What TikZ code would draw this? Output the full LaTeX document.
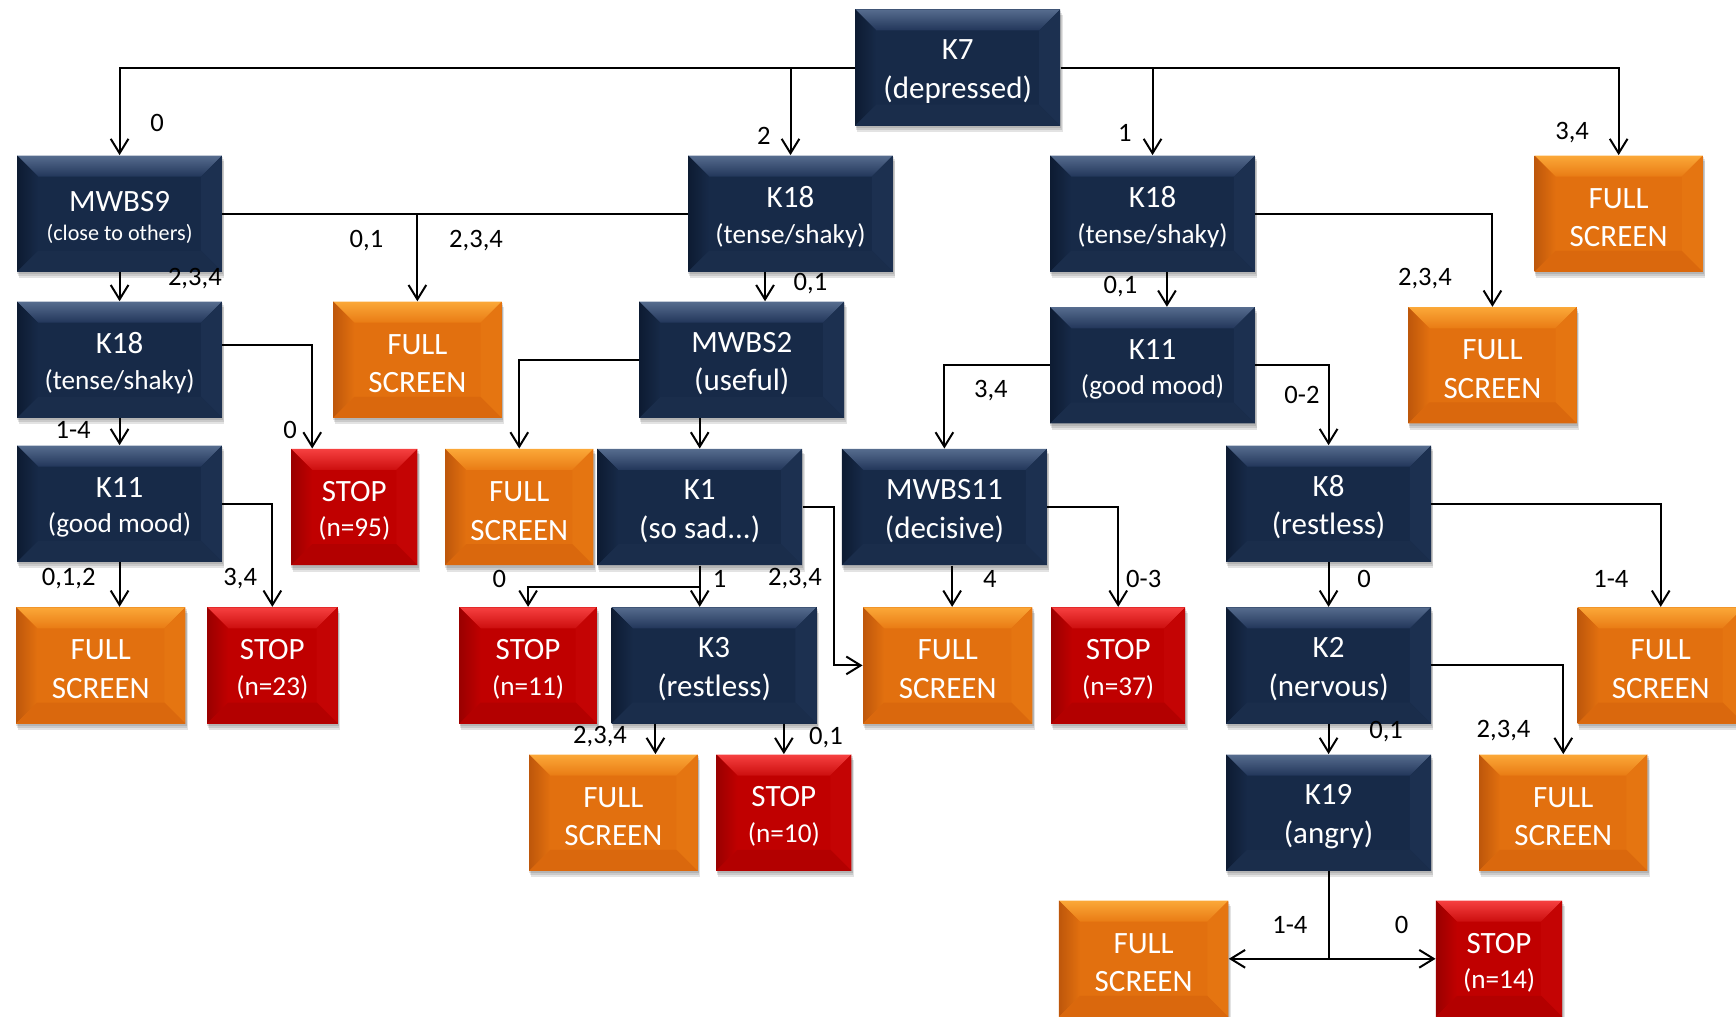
\documentclass[tikz,border=0pt]{standalone}
\usepackage{fontspec}
\setmainfont{Carlito}
\usetikzlibrary{arrows.meta,calc,backgrounds}
\definecolor{navyC}{HTML}{172A48}
\definecolor{navyT}{HTML}{566C8E}
\definecolor{navyM}{HTML}{22365A}
\definecolor{navyL}{HTML}{0D1B32}
\definecolor{navyR}{HTML}{1C3050}
\definecolor{navyB}{HTML}{1A2D4B}
\definecolor{orgC}{HTML}{E2700F}
\definecolor{orgT}{HTML}{FBA838}
\definecolor{orgM}{HTML}{E97B14}
\definecolor{orgL}{HTML}{BE570B}
\definecolor{orgR}{HTML}{E57511}
\definecolor{orgB}{HTML}{DA680D}
\definecolor{redC}{HTML}{C00000}
\definecolor{redT}{HTML}{F64040}
\definecolor{redM}{HTML}{CC0E0E}
\definecolor{redL}{HTML}{9A0000}
\definecolor{redR}{HTML}{C40404}
\definecolor{redB}{HTML}{B30000}
\newcommand{\smalltwo}[1]{{\fontsize{12.3}{15}\selectfont #1}}
\newcommand{\tp}{\rule{0pt}{12.5pt}}
\tikzset{
  bevel/.style n args={6}{path picture={
    \coordinate (bvA) at (path picture bounding box.north west);
    \coordinate (bvB) at (path picture bounding box.north east);
    \coordinate (bvC) at (path picture bounding box.south east);
    \coordinate (bvD) at (path picture bounding box.south west);
    \coordinate (bva) at ([shift={(9.5pt,-9.5pt)}]bvA);
    \coordinate (bvb) at ([shift={(-9.5pt,-9.5pt)}]bvB);
    \coordinate (bvc) at ([shift={(-9.5pt,9.5pt)}]bvC);
    \coordinate (bvd) at ([shift={(9.5pt,9.5pt)}]bvD);
    \shade[top color=#1, bottom color=#2] (bvA) -- (bvB) -- (bvb) -- (bva) -- cycle;
    \shade[left color=#3, right color=#6] (bvA) -- (bva) -- (bvd) -- (bvD) -- cycle;
    \fill[#4] (bvB) -- (bvb) -- (bvc) -- (bvC) -- cycle;
    \fill[#5] (bvD) -- (bvd) -- (bvc) -- (bvC) -- cycle;
  }},
  boxbase/.style={rectangle, inner sep=0pt, align=center, text=white,
    font=\fontsize{14}{17.5}\selectfont, minimum height=52.5pt},
  navybox/.style={boxbase, fill=navyC, minimum width=92.5pt,
    bevel={navyT}{navyM}{navyL}{navyR}{navyB}{navyC}},
  fsbox/.style={boxbase, fill=orgC, minimum width=76pt,
    bevel={orgT}{orgM}{orgL}{orgR}{orgB}{orgC}},
  stopbox/.style={boxbase, fill=redC, minimum width=60pt,
    bevel={redT}{redM}{redL}{redR}{redB}{redC}},
  conn/.style={line width=0.9pt, -{Straight Barb[length=6.5pt,width=8pt,line width=0.9pt]}},
  plainline/.style={line width=0.9pt},
  lab/.style={inner sep=0pt, font=\fontsize{12}{14}\selectfont},
}
\begin{document}
\begin{tikzpicture}[x=0.5pt,y=-0.5pt]
\useasboundingbox (0,0) rectangle (1568,918);
% ---- nodes
\node[navybox] (k7) at (865,61) {\tp K7\\(depressed)};
\node[navybox] (mwbs9) at (108,193) {\tp MWBS9\\[-4pt]{\fontsize{10}{12}\selectfont(close to others)}};
\node[navybox] (k18a) at (714,193) {\tp K18\\[-1.5pt]\smalltwo{(tense/shaky)}};
\node[navybox] (k18b) at (1041,193) {\tp K18\\[-1.5pt]\smalltwo{(tense/shaky)}};
\node[fsbox] (fs1) at (1462,193) {\tp FULL\\SCREEN};
\node[navybox] (k18c) at (108,325) {\tp K18\\[-1.5pt]\smalltwo{(tense/shaky)}};
\node[fsbox] (fs2) at (377,325) {\tp FULL\\SCREEN};
\node[navybox] (mwbs2) at (670,325) {\tp MWBS2\\(useful)};
\node[navybox] (k11b) at (1041,330) {\tp K11\\[-1.5pt]\smalltwo{(good mood)}};
\node[fsbox] (fs3) at (1348,330) {\tp FULL\\SCREEN};
\node[navybox] (k11a) at (108,455) {\tp K11\\[-1.5pt]\smalltwo{(good mood)}};
\node[stopbox, minimum width=57pt] (stop95) at (320,458) {\tp STOP\\[-1.5pt]\smalltwo{(n=95)}};
\node[fsbox, minimum width=67pt] (fs4) at (469,458) {\tp FULL\\SCREEN};
\node[navybox] (k1) at (632,458) {\tp K1\\(so sad...)};
\node[navybox] (mwbs11) at (853,458) {\tp MWBS11\\(decisive)};
\node[navybox] (k8) at (1200,455) {\tp K8\\(restless)};
\node[fsbox, minimum width=76.5pt] (fs5) at (91,601) {\tp FULL\\SCREEN};
\node[stopbox, minimum width=59pt] (stop23) at (246,601) {\tp STOP\\[-1.5pt]\smalltwo{(n=23)}};
\node[stopbox, minimum width=62pt] (stop11) at (477,601) {\tp STOP\\[-1.5pt]\smalltwo{(n=11)}};
\node[navybox] (k3) at (645,601) {\tp K3\\(restless)};
\node[fsbox, minimum width=76.5pt] (fs6) at (856,601) {\tp FULL\\SCREEN};
\node[stopbox, minimum width=60.5pt] (stop37) at (1010,601) {\tp STOP\\[-1.5pt]\smalltwo{(n=37)}};
\node[navybox] (k2) at (1200,601) {\tp K2\\(nervous)};
\node[fsbox, minimum width=75pt] (fs7) at (1500,601) {\tp FULL\\SCREEN};
\node[fsbox] (fs8) at (554,734) {\tp FULL\\SCREEN};
\node[stopbox, minimum width=61pt] (stop10) at (708,734) {\tp STOP\\[-1.5pt]\smalltwo{(n=10)}};
\node[navybox] (k19) at (1200,734) {\tp K19\\(angry)};
\node[fsbox] (fs9) at (1412,734) {\tp FULL\\SCREEN};
\node[fsbox, minimum width=76.5pt] (fs10) at (1033,866) {\tp FULL\\SCREEN};
\node[stopbox, minimum width=57pt] (stop14) at (1354,866) {\tp STOP\\[-1.5pt]\smalltwo{(n=14)}};
% ---- soft shadows
\begin{scope}[on background layer]
\foreach \n in {k7,mwbs9,k18a,k18b,fs1,k18c,fs2,mwbs2,k11b,fs3,k11a,stop95,fs4,k1,mwbs11,k8,fs5,stop23,stop11,k3,fs6,stop37,k2,fs7,fs8,stop10,k19,fs9,fs10,stop14}{
  \foreach \s in {1,2,3}{
    \fill[black, opacity=0.11] ([shift={(0.3pt*\s,-0.9pt*\s)}]\n.south west) rectangle ([shift={(0.3pt*\s,-0.9pt*\s)}]\n.north east);
  }
}
\end{scope}
% ---- connectors
\draw[conn] (k7.west) -| (mwbs9.north);
\draw[conn] (k7.west -| k18a.north) -- (k18a.north);
\draw[conn] (k7.east) -| (k18b.north);
\draw[conn] (k7.east) -| (fs1.north);
\draw[conn] (mwbs9.east) -| (fs2.north);
\draw[plainline] (k18a.west) -- (k18a.west -| fs2.north);
\draw[conn] (mwbs9.south) -- (k18c.north);
\draw[conn] ([xshift=-11.5pt]k18a.south) -- ([xshift=-11.5pt]k18a.south |- mwbs2.north);
\draw[conn] ([xshift=6.5pt]k18b.south) -- ([xshift=6.5pt]k18b.south |- k11b.north);
\draw[conn] (k18b.east) -| (fs3.north);
\draw[conn] (k18c.south) -- (k11a.north);
\draw[conn] ([yshift=6.5pt]k18c.east) -| ([xshift=-19pt]stop95.north);
\draw[conn] (mwbs2.west) -| (fs4.north);
\draw[conn] (k1.north |- mwbs2.south) -- (k1.north);
\draw[conn] (k11b.west) -| (mwbs11.north);
\draw[conn] (k11b.east) -| (k8.north);
\draw[conn] (k11a.south) -- (k11a.south |- fs5.north);
\draw[conn] (k11a.east) -| (stop23.north);
\draw[conn] (k1.south) -- ++(0,19) -| (stop11.north);
\draw[conn] (k1.south) -- (k1.south |- k3.north);
\draw[conn] (k1.east) -- ++(28,0) |- (fs6.west);
\draw[conn] ([xshift=3.5pt]mwbs11.south) -- ([xshift=3.5pt]mwbs11.south |- fs6.north);
\draw[conn] (mwbs11.east) -| (stop37.north);
\draw[conn] (k8.south) -- (k2.north);
\draw[conn] (k8.east) -| (fs7.north);
\draw[conn] ([xshift=-26.5pt]k3.south) -- ([xshift=-26.5pt]k3.south |- fs8.north);
\draw[conn] (stop10.north |- k3.south) -- (stop10.north);
\draw[conn] (k2.south) -- (k19.north);
\draw[conn] (k2.east) -| (fs9.north);
\draw[conn] (k19.south) |- (fs10.east);
\draw[conn] (k19.south) |- (stop14.west);
% ---- labels
\node[lab] (la1) at (142,111) {0};
\node[lab] (la2) at (690,123) {2};
\node[lab] (la3) at (1016,120) {1};
\node[lab] (la4) at (1420,120) {3,4};
\node[lab] (la5) at (331,217) {0,1};
\node[lab] (la6) at (430,217) {2,3,4};
\node[lab] (la7) at (176,252) {2,3,4};
\node[lab] (la8) at (732,256) {0,1};
\node[lab] (la9) at (1012,259) {0,1};
\node[lab] (la10) at (1287,252) {2,3,4};
\node[lab] (la11) at (66,388) {1-4};
\node[lab] (la12) at (262,388) {0};
\node[lab] (la13) at (895,353) {3,4};
\node[lab] (la14) at (1176,357) {0-2};
\node[lab] (la15) at (62,523) {0,1,2};
\node[lab] (la16) at (217,523) {3,4};
\node[lab] (la17) at (451,523) {0};
\node[lab] (la18) at (650,523) {1};
\node[lab] (la19) at (718,523) {2,3,4};
\node[lab] (la20) at (894,523) {4};
\node[lab] (la21) at (1033,523) {0-3};
\node[lab] (la22) at (1232,523) {0};
\node[lab] (la23) at (1455,523) {1-4};
\node[lab] (la24) at (542,665) {2,3,4};
\node[lab] (la25) at (746,666) {0,1};
\node[lab] (la26) at (1252,661) {0,1};
\node[lab] (la27) at (1358,660) {2,3,4};
\node[lab] (la28) at (1165,835) {1-4};
\node[lab] (la29) at (1266,835) {0};
\end{tikzpicture}
\end{document}
